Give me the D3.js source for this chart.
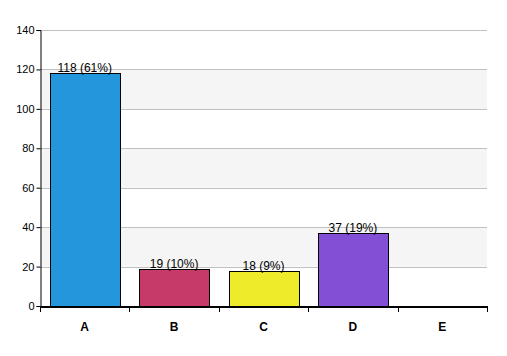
<!DOCTYPE html>
<html><head><meta charset="utf-8">
<script src="https://cdn.jsdelivr.net/npm/d3@7"></script>
<style>body{margin:0;background:#fff;}svg{display:block;}</style>
</head><body>
<svg id="c" width="507" height="356"></svg>
<script>
const categories = ["A","B","C","D","E"];
const values = [118, 19, 18, 37, 0];
const labels = ["118 (61%)","19 (10%)","18 (9%)","37 (19%)",""];
const colors = ["#2396dc","#c63a6a","#eeeb2b","#834fd5","#999999"];
const yTicks = [0,20,40,60,80,100,120,140];

const svg = d3.select("#c");
const L = 40, R = 487, T = 30, B = 306;
const x = d3.scaleBand().domain(categories).range([L, R]).paddingInner(0.22).paddingOuter(0.11);
const y = d3.scaleLinear().domain([0,140]).range([B, T]);

// alternating bands
for (let i = 0; i < yTicks.length - 1; i++) {
  if (i % 2 === 1) {
    svg.append("rect").attr("x", L).attr("width", R - L)
      .attr("y", y(yTicks[i+1])).attr("height", y(yTicks[i]) - y(yTicks[i+1]))
      .attr("fill", "#f5f5f5");
  }
}
// gridlines
svg.selectAll("line.grid").data(yTicks.filter(d => d > 0)).enter().append("line")
  .attr("x1", L).attr("x2", R).attr("y1", d => Math.round(y(d)) + 0.5).attr("y2", d => Math.round(y(d)) + 0.5)
  .attr("stroke", "#c0c0c0").attr("stroke-width", 1);

// bars
svg.selectAll("rect.bar").data(categories).enter().append("rect")
  .attr("x", d => Math.round(x(d)) + 0.5)
  .attr("y", (d,i) => Math.round(y(values[i])) + 0.5)
  .attr("width", Math.round(x.bandwidth()))
  .attr("height", (d,i) => Math.max(0, Math.round(B - y(values[i]))))
  .attr("fill", (d,i) => colors[i])
  .attr("stroke", "#000").attr("stroke-width", 1)
  .style("display", (d,i) => values[i] > 0 ? null : "none");

// value labels
svg.selectAll("text.val").data(categories).enter().append("text")
  .attr("x", d => x(d) + x.bandwidth()/2)
  .attr("y", (d,i) => y(values[i]) - 1)
  .attr("text-anchor", "middle")
  .attr("font-family", "Liberation Sans, Arial, sans-serif").attr("font-size", 12)
  .attr("fill", "#000")
  .text((d,i) => labels[i]);

// y axis
const yAxis = d3.axisLeft(y).tickValues(yTicks).tickSize(4).tickPadding(2);
const gy = svg.append("g").attr("transform", `translate(${L + 0.5},0)`).call(yAxis);
gy.select(".domain").attr("stroke", "#000");
gy.selectAll(".tick line").attr("stroke", "#000");
gy.selectAll(".tick text").attr("font-family", "Liberation Sans, Arial, sans-serif").attr("font-size", 11).attr("fill", "#000");

// x axis
const ticksX = categories.map(c => x(c) - x.step()*x.paddingInner()/2).concat([R]);
const gx = svg.append("g");
gx.append("line").attr("x1", L).attr("x2", R + 1).attr("y1", B + 1).attr("y2", B + 1).attr("stroke", "#000").attr("stroke-width", 2);
gx.selectAll("line.tk").data([L].concat(categories.slice(1).map((c,i) => (x(categories[i]) + x.bandwidth() + x(c))/2)).concat([R])).enter().append("line")
  .attr("x1", d => Math.round(d) + 0.5).attr("x2", d => Math.round(d) + 0.5)
  .attr("y1", B).attr("y2", B + 6).attr("stroke", "#000");
gx.selectAll("text").data(categories).enter().append("text")
  .attr("x", d => x(d) + x.bandwidth()/2).attr("y", 331)
  .attr("text-anchor", "middle")
  .attr("font-family", "Liberation Sans, Arial, sans-serif").attr("font-size", 12).attr("font-weight", "bold")
  .text(d => d);
</script>
</body></html>
